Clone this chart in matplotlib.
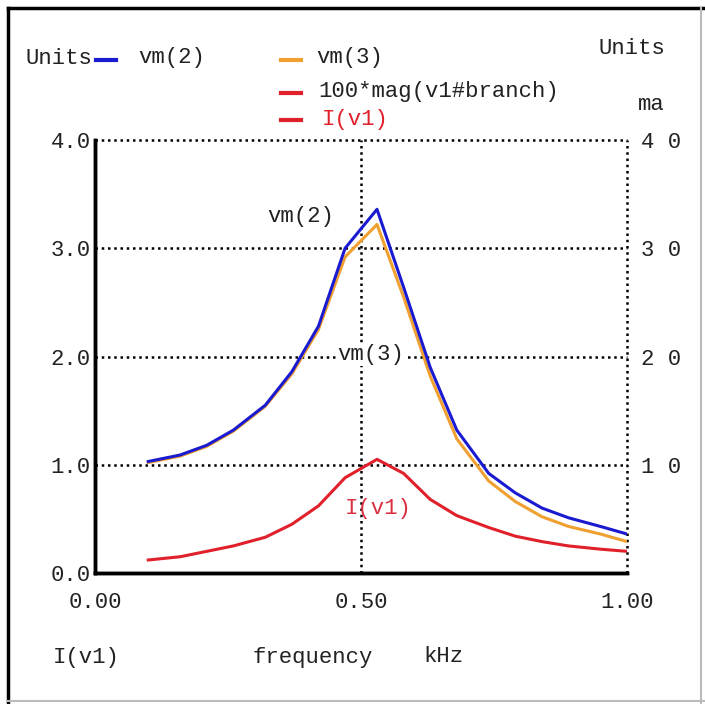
import matplotlib
matplotlib.use("Agg")
import matplotlib.pyplot as plt
from matplotlib.lines import Line2D

# frequency sweep (kHz) and the three traces
freq = [0.10, 0.16, 0.21, 0.26, 0.32, 0.37, 0.42, 0.47, 0.53,
        0.58, 0.63, 0.68, 0.74, 0.79, 0.84, 0.89, 0.95, 1.00]
vm2 = [1.03, 1.09, 1.18, 1.32, 1.55, 1.86, 2.28, 3.00, 3.36,
       2.64, 1.90, 1.32, 0.92, 0.74, 0.60, 0.51, 0.43, 0.36]
vm3 = [1.02, 1.08, 1.17, 1.31, 1.54, 1.84, 2.25, 2.92, 3.22,
       2.55, 1.82, 1.24, 0.85, 0.66, 0.52, 0.43, 0.36, 0.29]
i_v1 = [1.2, 1.5, 2.0, 2.5, 3.3, 4.5, 6.2, 8.8, 10.5,
        9.2, 6.8, 5.3, 4.2, 3.4, 2.9, 2.5, 2.2, 2.0]  # ma

xticks = [0.0, 0.5, 1.0]
xtick_labels = ["0.00", "0.50", "1.00"]
yticks = [0, 1, 2, 3, 4]
ytick_labels = ["0.0", "1.0", "2.0", "3.0", "4.0"]
rticks = [10, 20, 30, 40]
rtick_labels = ["1 0", "2 0", "3 0", "4 0"]

blue = "#1a1ad0"
orange = "#f0a030"
red = "#e0202a"
mono = ["Liberation Mono", "DejaVu Sans Mono"]
fs = 16
txt = "#222222"

fig = plt.figure(figsize=(7.05, 7.04), dpi=100)
ax = fig.add_axes([0.1348, 0.1861, 0.8894 - 0.1348, 0.8011 - 0.1861])
ax2 = ax.twinx()

ax.plot(freq, vm3, color=orange, lw=2.2, zorder=3)
ax.plot(freq, vm2, color=blue, lw=2.2, zorder=4)
ax2.plot(freq, i_v1, color=red, lw=2.2, zorder=3)

ax.set_xlim(0, 1)
ax.set_ylim(0, 4)
ax2.set_ylim(0, 40)

# dotted grid
for y in [1, 2, 3, 4]:
    ax.axhline(y, color="black", ls=(0, (1, 1.5)), lw=1.8, zorder=1, clip_on=False)
for x in [0.5, 1.0]:
    ax.axvline(x, color="black", ls=(0, (1, 1.5)), lw=1.8, zorder=1, clip_on=False)

for a in (ax, ax2):
    for s in ["top", "right"]:
        a.spines[s].set_visible(False)
    a.spines["left"].set_linewidth(2.5)
    a.spines["bottom"].set_linewidth(2.5)
    a.tick_params(length=0)

ax.set_xticks(xticks)
ax.set_xticklabels(xtick_labels, fontfamily=mono, fontsize=fs, color=txt)
ax.set_yticks(yticks)
ax.set_yticklabels(ytick_labels, fontfamily=mono, fontsize=fs, color=txt)
ax.tick_params(axis="x", pad=14)
ax.tick_params(axis="y", pad=3)
ax2.set_yticks(rticks)
ax2.set_yticklabels(rtick_labels, fontfamily=mono, fontsize=fs, color=txt)
ax2.tick_params(axis="y", pad=10)

# labels on curves
box = dict(facecolor="white", edgecolor="none", pad=1)
ax.text(0.387, 3.29, "vm(2)", fontfamily=mono, fontsize=fs, color=txt,
        ha="center", va="center", bbox=box, zorder=2)
ax.text(0.519, 2.02, "vm(3)", fontfamily=mono, fontsize=fs, color=txt,
        ha="center", va="center", bbox=box, zorder=2)
ax.text(0.532, 0.60, "I(v1)", fontfamily=mono, fontsize=fs, color="#d83040",
        ha="center", va="center", zorder=2)

# header texts and legend
def ft(x, y, s, color=txt, ha="left"):
    fig.text(x / 705, 1 - y / 704, s, fontfamily=mono, fontsize=fs, color=color, ha=ha, va="center")

ft(25, 58, "Units")
ft(138, 58, "vm(2)")
ft(316, 58, "vm(3)")
ft(318, 92, "100*mag(v1#branch)")
ft(322, 119, "I(v1)", color=red)
ft(598, 48, "Units")
ft(638, 105, "ma")
ft(53, 657, "I(v1)")
ft(252, 657, "frequency")
ft(423, 657, "kHz")

for y, x0, c in [(60, 96, blue), (60, 281, orange), (93, 281, red), (120, 281, red)]:
    fig.add_artist(Line2D([x0 / 705, (x0 + 20) / 705], [1 - y / 704, 1 - y / 704],
                          color=c, lw=3))

# image frame
fig.add_artist(Line2D([8 / 705, 8 / 705], [0, 1 - 8 / 704], color="black", lw=2.5))
fig.add_artist(Line2D([8 / 705, 1], [1 - 8 / 704, 1 - 8 / 704], color="black", lw=2.5))
fig.add_artist(Line2D([8 / 705, 1], [3 / 704, 3 / 704], color="#bbbbbb", lw=1.5))
fig.add_artist(Line2D([701 / 705, 701 / 705], [0, 1 - 8 / 704], color="#bbbbbb", lw=1.5))

fig.savefig("out.png", dpi=100)
